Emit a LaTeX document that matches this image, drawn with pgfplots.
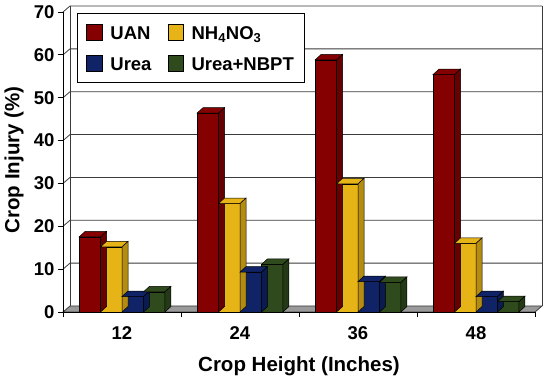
\documentclass[border=0pt]{standalone}
\usepackage{pgfplots}
\pgfplotsset{compat=1.18}
\usepackage{pgfplotstable}
\usepackage{fontspec}
\setmainfont{Liberation Sans}

\definecolor{uan}{HTML}{850000}
\definecolor{nhf}{HTML}{E6B416}
\definecolor{urea}{HTML}{0F2366}
\definecolor{nbpt}{HTML}{2F4A1D}
\definecolor{floorgray}{HTML}{9A9A9A}
\definecolor{gridc}{HTML}{3A3A3A}

\pgfplotstableread{
x y
1 17.5
2 46.4
3 58.8
4 55.4
}\uantab
\pgfplotstableread{
x y
1 15.2
2 25.3
3 29.9
4 16.0
}\nhftab
\pgfplotstableread{
x y
1 3.6
2 9.3
3 7.1
4 3.6
}\ureatab
\pgfplotstableread{
x y
1 4.7
2 11.1
3 6.9
4 2.4
}\nbpttab

% prism faces (top and right) drawn at the data point (x, y)
\pgfdeclareplotmark{prism}{%
  \pgfmathsetmacro\barH{\hval*4.285714}%
  \pgfpathmoveto{\pgfpoint{-10.75bp}{0bp}}%
  \pgfpathlineto{\pgfpoint{10.75bp}{0bp}}%
  \pgfpathlineto{\pgfpoint{16.75bp}{5.5bp}}%
  \pgfpathlineto{\pgfpoint{-4.75bp}{5.5bp}}%
  \pgfpathclose
  \pgfusepath{fill,stroke}%
  \pgfpathmoveto{\pgfpoint{10.75bp}{0bp}}%
  \pgfpathlineto{\pgfpoint{16.75bp}{5.5bp}}%
  \pgfpathlineto{\pgfpoint{16.75bp}{5.5bp-\barH bp}}%
  \pgfpathlineto{\pgfpoint{10.75bp}{-\barH bp}}%
  \pgfpathclose
  \pgfusepath{fill}%
  \begin{pgfscope}%
  \pgfsetfillcolor{black}\pgfsetfillopacity{0.22}%
  \pgfpathmoveto{\pgfpoint{10.75bp}{0bp}}%
  \pgfpathlineto{\pgfpoint{16.75bp}{5.5bp}}%
  \pgfpathlineto{\pgfpoint{16.75bp}{5.5bp-\barH bp}}%
  \pgfpathlineto{\pgfpoint{10.75bp}{-\barH bp}}%
  \pgfpathclose
  \pgfusepath{fill}%
  \end{pgfscope}%
  \pgfpathmoveto{\pgfpoint{10.75bp}{0bp}}%
  \pgfpathlineto{\pgfpoint{16.75bp}{5.5bp}}%
  \pgfpathlineto{\pgfpoint{16.75bp}{5.5bp-\barH bp}}%
  \pgfpathlineto{\pgfpoint{10.75bp}{-\barH bp}}%
  \pgfpathclose
  \pgfusepath{stroke}%
}

\begin{document}
\begin{tikzpicture}
\begin{axis}[
  set layers,
  x=118bp, y=4.285714bp,
  xmin=0.5, xmax=4.5, ymin=0, ymax=70,
  enlargelimits=false,
  clip=false,
  axis x line*=bottom, axis y line*=left,
  axis line style={-, black, line width=0.8bp},
  xtick={0.5,1.5,2.5,3.5,4.5}, xticklabels={,,,,},
  extra x ticks={1,2,3,4}, extra x tick labels={12,24,36,48},
  extra x tick style={major tick length=0pt, tick style={draw=none}, tick label style={yshift=-11bp}},
  ytick={0,10,20,30,40,50,60,70},
  tick style={black, line width=0.8bp},
  tick align=outside,
  major tick length=5bp,
  /pgf/number format/assume math mode=true,
  ticklabel style={font=\bfseries\fontsize{18.5bp}{20bp}\selectfont},
  xlabel={Crop Height (Inches)},
  ylabel={Crop Injury (\%)},
  every axis x label/.style={at={(axis description cs:0.5,-0.1967)}, anchor=base, font=\bfseries\fontsize{20.5bp}{22bp}\selectfont},
  every axis y label/.style={at={(axis description cs:-0.1038,0.507)}, anchor=center, rotate=90, font=\bfseries\fontsize{20.5bp}{22bp}\selectfont},
  legend columns=2,
  legend cell align=left,
  legend style={at={(axis description cs:0.0297,0.9967)}, anchor=north west,
    draw=black, line width=0.8bp, fill=white,
    font=\bfseries\fontsize{18.5bp}{20bp}\selectfont,
    inner xsep=9bp, inner ysep=4bp,
    row sep=0bp,
    nodes={inner ysep=0bp, text height=22.3bp, text depth=8.3bp},
    /tikz/every even column/.append style={column sep=14bp}},
  legend image code/.code={\draw[#1, draw=black, line width=0.5bp] (0bp,-7.5bp) rectangle (15.5bp,8bp); \path (21.5bp,0bp);},
]
\begin{pgfonlayer}{axis background}
  \fill[floorgray] (axis cs:0.5,0) -- (axis cs:4.5,0) -- ++(7bp,6bp) -- ([shift={(7bp,6bp)}]axis cs:0.5,0) -- cycle;
  \draw[gridc, line width=0.8bp] (axis cs:0.5,0) -- (axis cs:4.5,0) -- ++(7bp,6bp) -- ([shift={(7bp,6bp)}]axis cs:0.5,0) -- cycle;
  \pgfplotsinvokeforeach{10,20,30,40,50,60,70}{
    \draw[gridc, line width=0.8bp] (axis cs:0.5,#1) -- ++(7bp,6bp) -- ([shift={(7bp,6bp)}]axis cs:4.5,#1);
  }
  \draw[gridc, line width=0.8bp] ([shift={(7bp,6bp)}]axis cs:0.5,0) -- ([shift={(7bp,6bp)}]axis cs:0.5,70);
  \draw[gridc, line width=0.8bp] ([shift={(7bp,6bp)}]axis cs:4.5,0) -- ([shift={(7bp,6bp)}]axis cs:4.5,70);
\end{pgfonlayer}

\addplot[ybar, bar width=0.182, bar shift=-0.273, fill=uan, draw=black, line width=0.5bp] table {\uantab};
\addlegendentry{UAN}
\addplot[only marks, mark=prism, mark options={fill=uan, draw=black, line width=0.5bp}, visualization depends on={\thisrow{y} \as \hval}, forget plot] table[x expr=\thisrow{x}-0.273] {\uantab};

\addplot[ybar, bar width=0.182, bar shift=-0.091, fill=nhf, draw=black, line width=0.5bp] table {\nhftab};
\addlegendentry{NH\textsubscript{4}NO\textsubscript{3}}
\addplot[only marks, mark=prism, mark options={fill=nhf, draw=black, line width=0.5bp}, visualization depends on={\thisrow{y} \as \hval}, forget plot] table[x expr=\thisrow{x}-0.091] {\nhftab};

\addplot[ybar, bar width=0.182, bar shift=0.091, fill=urea, draw=black, line width=0.5bp] table {\ureatab};
\addlegendentry{Urea}
\addplot[only marks, mark=prism, mark options={fill=urea, draw=black, line width=0.5bp}, visualization depends on={\thisrow{y} \as \hval}, forget plot] table[x expr=\thisrow{x}+0.091] {\ureatab};

\addplot[ybar, bar width=0.182, bar shift=0.273, fill=nbpt, draw=black, line width=0.5bp] table {\nbpttab};
\addlegendentry{Urea+NBPT}
\addplot[only marks, mark=prism, mark options={fill=nbpt, draw=black, line width=0.5bp}, visualization depends on={\thisrow{y} \as \hval}, forget plot] table[x expr=\thisrow{x}+0.273] {\nbpttab};
\end{axis}
\pgfresetboundingbox
\path[use as bounding box] (-63bp,-64bp) rectangle (485bp,312bp);
\end{tikzpicture}
\end{document}
